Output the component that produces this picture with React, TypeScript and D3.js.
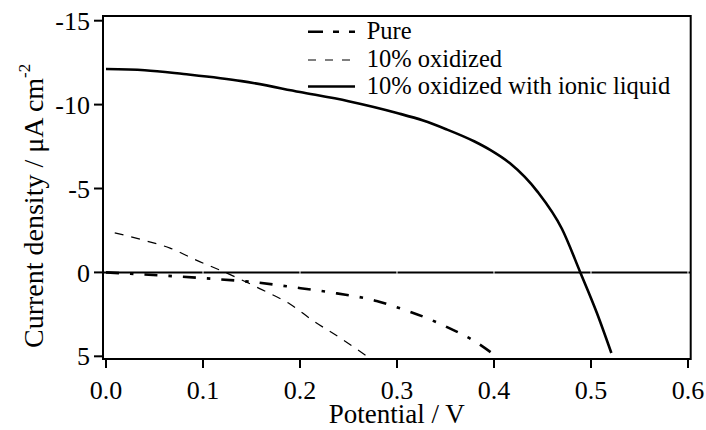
import React from "react";
import * as d3 from "d3";

// Potential (V) and current density (µA cm^-2) for each film
const pureV = [0, 0.025, 0.11, 0.152, 0.193, 0.238, 0.279, 0.293, 0.334, 0.355, 0.38, 0.403];
const pureJ = [0, 0.08, 0.38, 0.58, 0.88, 1.25, 1.7, 1.95, 2.8, 3.35, 4.1, 5.03];

const oxV = [0.009, 0.04, 0.066, 0.093, 0.123, 0.159, 0.19, 0.214, 0.24, 0.268];
const oxJ = [-2.36, -1.9, -1.45, -0.73, 0, 0.98, 1.9, 2.9, 3.85, 4.95];

const ionicV = [0, 0.04, 0.08, 0.14, 0.2, 0.25, 0.3, 0.327, 0.35, 0.38, 0.396, 0.4165, 0.445, 0.47, 0.489, 0.506, 0.521];
const ionicJ = [-12.12, -12.05, -11.82, -11.4, -10.75, -10.2, -9.5, -9.05, -8.55, -7.8, -7.3, -6.5, -4.8, -2.6, 0, 2.4, 4.8];

const xTicks = [0, 0.1, 0.2, 0.3, 0.4, 0.5, 0.6];
const yTicks = [-15, -10, -5, 0, 5];

const legendLabels = ["Pure", "10% oxidized", "10% oxidized with ionic liquid"];

const W = 706;
const H = 430;
const plot = { left: 103, right: 690.7, top: 16, bottom: 359 };
const FONT = "Liberation Serif, Times New Roman, serif";
const textStyle = { fontFamily: FONT };

const x = d3.scaleLinear().domain([-0.0031, 0.6028]).range([plot.left, plot.right]);
const y = d3.scaleLinear().domain([-15.28, 5.16]).range([plot.top, plot.bottom]);

const toPts = (vs: number[], js: number[]): [number, number][] => vs.map((v, i) => [v, js[i]]);

const line = d3
  .line<[number, number]>()
  .x((d) => x(d[0]))
  .y((d) => y(d[1]))
  .curve(d3.curveMonotoneX);

const series = [
  { pts: toPts(pureV, pureJ), width: 2.6, dash: "13,11,3.5,11", legendDash: "15,10,6,10" },
  { pts: toPts(oxV, oxJ), width: 1.2, dash: "9,8", legendDash: "8,9" },
  { pts: toPts(ionicV, ionicJ), width: 2.6, dash: undefined, legendDash: undefined },
];

export default function App() {
  const legendX0 = 308;
  const legendX1 = 355;
  const legendRowsY = [31.7, 60, 86.5];
  const legendBaseline = [39, 67, 94];

  return (
    <svg
      width={W}
      height={H}
      viewBox={`0 0 ${W} ${H}`}
      style={{ position: "absolute", left: 0, top: 0, background: "#fff", fontFamily: FONT }}
    >
      <rect x={0} y={0} width={W} height={H} fill="#fff" />
      <defs>
        <clipPath id="plotArea">
          <rect x={plot.left} y={plot.top} width={plot.right - plot.left} height={plot.bottom - plot.top} />
        </clipPath>
      </defs>

      {/* zero-current reference line */}
      <line x1={plot.left} x2={plot.right} y1={y(0)} y2={y(0)} stroke="#000" strokeWidth={2} />
      {xTicks.slice(1).map((t) => (
        <line key={`zt${t}`} x1={x(t)} x2={x(t)} y1={y(0) - 1.5} y2={y(0) + 1.5} stroke="#fff" strokeWidth={1} />
      ))}

      {/* J–V curves */}
      <g clipPath="url(#plotArea)">
        {series.map((s, i) => (
          <path
            key={i}
            d={line(s.pts) ?? ""}
            fill="none"
            stroke="#000"
            strokeWidth={s.width}
            strokeDasharray={s.dash}
          />
        ))}
      </g>

      {/* frame */}
      <rect
        x={plot.left}
        y={plot.top}
        width={plot.right - plot.left}
        height={plot.bottom - plot.top}
        fill="none"
        stroke="#000"
        strokeWidth={2}
      />

      {/* x axis ticks */}
      {xTicks.map((t) => (
        <g key={`x${t}`}>
          <line x1={x(t)} x2={x(t)} y1={plot.bottom} y2={plot.bottom + 9} stroke="#000" strokeWidth={2} />
          <text x={x(t)} y={399} textAnchor="middle" fontSize={26} style={textStyle}>
            {d3.format(".1f")(t)}
          </text>
        </g>
      ))}

      {/* y axis ticks */}
      {yTicks.map((t) => (
        <g key={`y${t}`}>
          <line x1={plot.left - 9} x2={plot.left} y1={y(t)} y2={y(t)} stroke="#000" strokeWidth={2} />
          <text x={plot.left - 13} y={y(t)} dy="0.35em" textAnchor="end" fontSize={26} style={textStyle}>
            {t}
          </text>
        </g>
      ))}

      {/* axis titles */}
      <text x={(plot.left + plot.right) / 2} y={423} textAnchor="middle" fontSize={27} style={textStyle}>
        Potential / V
      </text>
      <text transform="translate(43,348) rotate(-90)" textAnchor="start" fontSize={28} style={textStyle}>
        Current density / μA cm
        <tspan fontSize={17} dy={-13}>
          -2
        </tspan>
      </text>

      {/* legend */}
      {series.map((s, i) => (
        <g key={`lg${i}`}>
          <line
            x1={legendX0}
            x2={legendX1}
            y1={legendRowsY[i]}
            y2={legendRowsY[i]}
            stroke="#000"
            strokeWidth={s.width}
            strokeDasharray={s.legendDash}
          />
          <text x={366.7} y={legendBaseline[i]} fontSize={24.5} style={textStyle}>
            {legendLabels[i]}
          </text>
        </g>
      ))}
    </svg>
  );
}
